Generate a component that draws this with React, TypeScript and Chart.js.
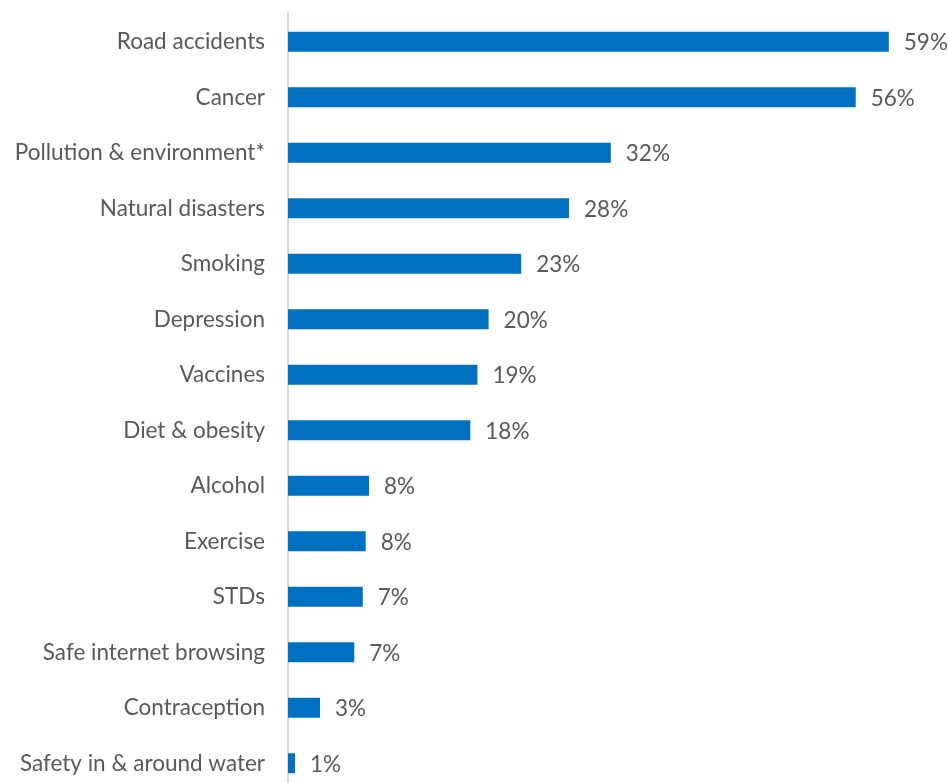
import React, { useEffect, useRef } from "react";
import { Chart, registerables } from "chart.js";

Chart.register(...registerables);

const categories = [
  "Road accidents",
  "Cancer",
  "Pollution & environment*",
  "Natural disasters",
  "Smoking",
  "Depression",
  "Vaccines",
  "Diet & obesity",
  "Alcohol",
  "Exercise",
  "STDs",
  "Safe internet browsing",
  "Contraception",
  "Safety in & around water",
];

const values = [59.0, 55.75, 31.7, 27.6, 22.9, 19.7, 18.6, 17.9, 7.96, 7.63, 7.34, 6.51, 3.14, 0.69];

const valueLabels = ["59%", "56%", "32%", "28%", "23%", "20%", "19%", "18%", "8%", "8%", "7%", "7%", "3%", "1%"];

const FONT_FAMILY = "Lato, 'Open Sans', sans-serif";
const FONT_SIZE = 22.5;
const TEXT_COLOR = "#595959";

const valueLabelPlugin = {
  id: "valueLabels",
  afterDatasetsDraw(chart: any) {
    const ctx = chart.ctx;
    const meta = chart.getDatasetMeta(0);
    ctx.save();
    ctx.font = `${FONT_SIZE}px ${FONT_FAMILY}`;
    ctx.fillStyle = TEXT_COLOR;
    ctx.textAlign = "left";
    ctx.textBaseline = "middle";
    meta.data.forEach((el: any, i: number) => {
      ctx.fillText(valueLabels[i], el.x + 15, el.y + 1);
    });
    ctx.restore();
  },
};

export default function App() {
  const ref = useRef<HTMLCanvasElement | null>(null);

  useEffect(() => {
    if (!ref.current) return;
    const chart = new Chart(ref.current, {
      type: "bar",
      data: {
        labels: categories,
        datasets: [
          {
            data: values,
            backgroundColor: "#0070C0",
            borderWidth: 0,
            categoryPercentage: 1,
            barPercentage: 0.36,
          },
        ],
      },
      options: {
        indexAxis: "y",
        responsive: false,
        animation: false,
        devicePixelRatio: 1,
        layout: { padding: { top: 14, bottom: 9, left: 0, right: 49 } },
        plugins: {
          legend: { display: false },
          tooltip: { enabled: false },
          title: { display: false },
        },
        scales: {
          x: {
            display: false,
            min: 0,
            max: 60,
          },
          y: {
            grid: { display: false, drawTicks: false },
            border: { display: true, color: "#d9d9d9", width: 2 },
            ticks: {
              autoSkip: false,
              padding: 23,
              color: TEXT_COLOR,
              font: { family: FONT_FAMILY, size: FONT_SIZE },
            },
            afterFit(scale: any) {
              scale.width = 288;
              scale.paddingTop = 0;
              scale.paddingBottom = 0;
            },
          },
        },
      },
      plugins: [valueLabelPlugin],
    });
    return () => chart.destroy();
  }, []);

  return (
    <div
      style={{
        position: "absolute",
        left: 0,
        top: 0,
        width: 948,
        height: 783,
        overflow: "hidden",
        background: "#fff",
      }}
    >
      <canvas ref={ref} width={948} height={800} style={{ display: "block" }} />
    </div>
  );
}
